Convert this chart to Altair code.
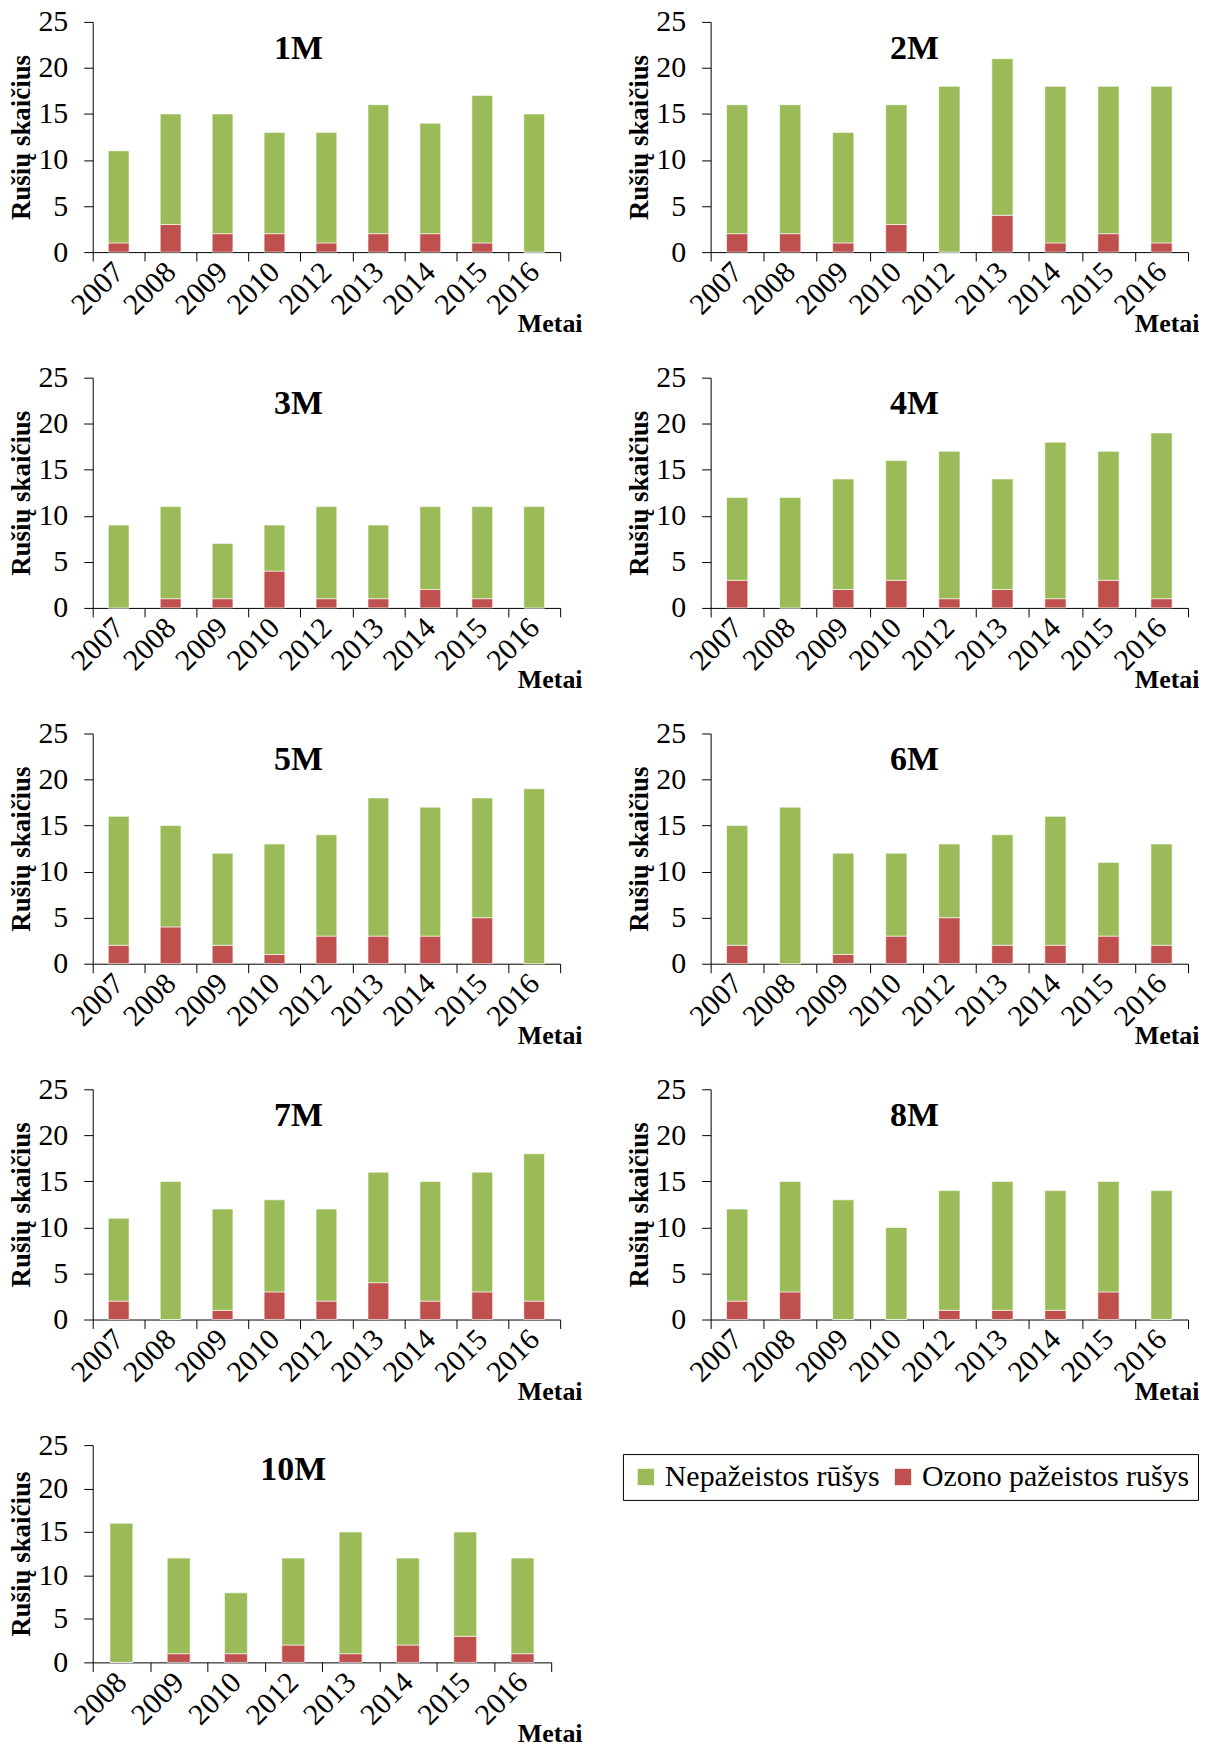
import altair as alt
import pandas as pd

# ---- data ----
years_a = ["2007", "2008", "2009", "2010", "2012", "2013", "2014", "2015", "2016"]
years_b = ["2008", "2009", "2010", "2012", "2013", "2014", "2015", "2016"]

panel_names = ["1M", "2M", "3M", "4M", "5M", "6M", "7M", "8M", "10M"]

# total bar height (all species) per year
total_1M = [11, 15, 15, 13, 13, 16, 14, 17, 15]
total_2M = [16, 16, 13, 16, 18, 21, 18, 18, 18]
total_3M = [9, 11, 7, 9, 11, 9, 11, 11, 11]
total_4M = [12, 12, 14, 16, 17, 14, 18, 17, 19]
total_5M = [16, 15, 12, 13, 14, 18, 17, 18, 19]
total_6M = [15, 17, 12, 12, 13, 14, 16, 11, 13]
total_7M = [11, 15, 12, 13, 12, 16, 15, 16, 18]
total_8M = [12, 15, 13, 10, 14, 15, 14, 15, 14]
total_10M = [16, 12, 8, 12, 15, 12, 15, 12]

# ozone damaged species per year (red part)
ozone_1M = [1, 3, 2, 2, 1, 2, 2, 1, 0]
ozone_2M = [2, 2, 1, 3, 0, 4, 1, 2, 1]
ozone_3M = [0, 1, 1, 4, 1, 1, 2, 1, 0]
ozone_4M = [3, 0, 2, 3, 1, 2, 1, 3, 1]
ozone_5M = [2, 4, 2, 1, 3, 3, 3, 5, 0]
ozone_6M = [2, 0, 1, 3, 5, 2, 2, 3, 2]
ozone_7M = [2, 0, 1, 3, 2, 4, 2, 3, 2]
ozone_8M = [2, 3, 0, 0, 1, 1, 1, 3, 0]
ozone_10M = [0, 1, 1, 2, 1, 2, 3, 1]

series_ok = "Nepažeistos rūšys"
series_oz = "Ozono pažeistos rušys"
colors = ["#9BBB59", "#C0504D"]

totals = [total_1M, total_2M, total_3M, total_4M, total_5M, total_6M, total_7M, total_8M, total_10M]
ozones = [ozone_1M, ozone_2M, ozone_3M, ozone_4M, ozone_5M, ozone_6M, ozone_7M, ozone_8M, ozone_10M]
years_of = [years_a] * 8 + [years_b]

rows = []
for name, yrs, tot, oz in zip(panel_names, years_of, totals, ozones):
    for y, t, o in zip(yrs, tot, oz):
        rows.append({"panel": name, "year": y, "series": series_oz, "value": o, "ord": 0})
        rows.append({"panel": name, "year": y, "series": series_ok, "value": t - o, "ord": 1})
df = pd.DataFrame(rows)
titles_df = pd.DataFrame({"panel": panel_names})

FONT = "Liberation Serif"


def panel(name, yrs, w, h, title_dx, metai_dx, metai_dy=59):
    xscale = alt.Scale(domain=yrs, paddingInner=0, paddingOuter=0)
    yscale = alt.Scale(domain=[0, 25])
    xaxis = alt.Axis(
        title="Metai",
        labelAngle=-45,
        labelAlign="right",
        labelBaseline="middle",
        labelPadding=6,
        tickBand="extent",
        tickSize=9,
        titleAnchor="end",
        titleAlign="right",
        titleBaseline="top",
        titleX=w + metai_dx,
        titleY=metai_dy,
    )
    yaxis = alt.Axis(
        values=[0, 5, 10, 15, 20, 25],
        title="Rušių skaičius",
        grid=False,
        tickSize=9,
        labelPadding=16,
        titlePadding=2,
    )
    bars = (
        alt.Chart(df)
        .transform_filter(alt.datum.panel == name)
        .mark_bar(width=alt.RelativeBandSize(0.4), stroke="white", strokeWidth=0.6)
        .encode(
            x=alt.X("year:N", sort=yrs, scale=xscale, axis=xaxis, title="Metai"),
            y=alt.Y("value:Q", stack="zero", scale=yscale, axis=yaxis, title="Rušių skaičius"),
            color=alt.Color(
                "series:N",
                scale=alt.Scale(domain=[series_ok, series_oz], range=colors),
                legend=alt.Legend(
                    title=None,
                    orient="none",
                    legendX=532,
                    legendY=1437,
                    direction="horizontal",
                    strokeColor="black",
                    padding=8,
                    labelFontSize=30,
                    labelFont=FONT,
                    labelColor="black",
                    symbolType="square",
                    symbolSize=270,
                    symbolStrokeWidth=0,
                    columnPadding=8,
                    labelLimit=400,
                ),
            ),
            order=alt.Order("ord:Q"),
        )
    )
    # panel title written inside the plot, anchored between the 4th and 5th year
    label = (
        alt.Chart(titles_df)
        .transform_filter(alt.datum.panel == name)
        .mark_text(font=FONT, fontSize=34, fontWeight="bold", color="black",
                   baseline="middle", align="center", dx=title_dx)
        .encode(
            x=alt.X(datum="2012", type="nominal", scale=xscale, axis=xaxis, title="Metai"),
            y=alt.Y(datum=22.1, type="quantitative", scale=yscale, axis=yaxis, title="Rušių skaičius"),
            text="panel:N",
        )
    )
    return alt.layer(bars, label).properties(width=w, height=h)


WL, WR = 469, 479
H = 231
row1 = alt.hconcat(panel("1M", years_a, WL, H, -28, 22), panel("2M", years_a, WR, H, -35, 11), spacing=44)
row2 = alt.hconcat(panel("3M", years_a, WL, H, -28, 22), panel("4M", years_a, WR, H, -35, 11), spacing=44)
row3 = alt.hconcat(panel("5M", years_a, WL, H, -28, 22), panel("6M", years_a, WR, H, -35, 11), spacing=44)
row4 = alt.hconcat(panel("7M", years_a, WL, H, -28, 22), panel("8M", years_a, WR, H, -35, 11), spacing=44)
row5 = alt.hconcat(panel("10M", years_b, 460, 218, 0, 31, 58), spacing=44)

chart = (
    alt.vconcat(row1, row2, row3, row4, row5, spacing=26)
    .properties(padding={"top": -4, "left": 0, "right": 0, "bottom": 0})
    .configure_view(strokeWidth=0)
    .configure_axis(
        labelFont=FONT,
        titleFont=FONT,
        labelFontSize=30,
        titleFontSize=27,
        titleFontWeight="bold",
        labelColor="black",
        titleColor="black",
        domainColor="black",
        tickColor="black",
        domainWidth=1,
        tickWidth=1,
        labelOverlap=False,
    )
    .configure_axisX(titleFontSize=26)
)

chart.save("out.html", embed_options={"renderer": "svg", "actions": False})
